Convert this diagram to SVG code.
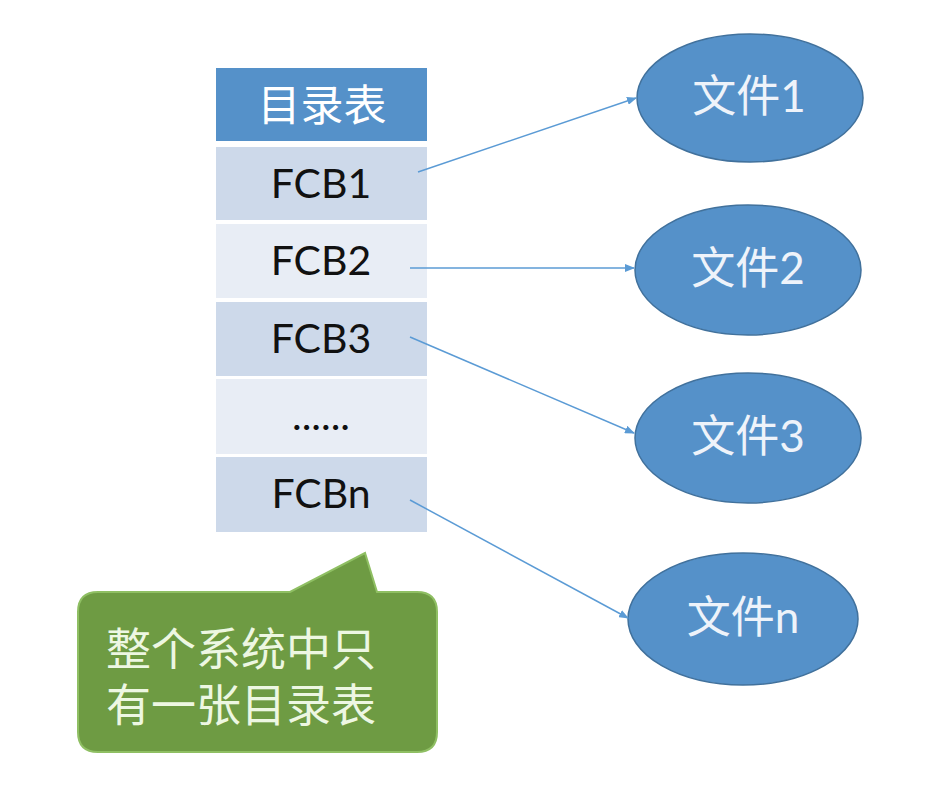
<svg xmlns="http://www.w3.org/2000/svg" width="939" height="789" viewBox="0 0 939 789">
<style>
.hdr{fill:#5591c9}
.dk{fill:#cdd9ea}
.lt{fill:#e8edf5}
.t{font-family:Lato,"Liberation Sans","Noto Sans CJK SC",sans-serif;text-anchor:middle}
.ft{font-size:41px;fill:#111}
.ell{fill:#5591c9;stroke:#41719c;stroke-width:1.5}
.et{font-size:44px;fill:#eef3fa}
.ct{font-family:"Liberation Sans","Noto Sans CJK SC",sans-serif;font-size:45px;fill:#edf7e2}
.conn{stroke:#5b9bd5;stroke-width:1.5;fill:none;marker-end:url(#ah)}
</style>
<defs>
<marker id="ah" markerWidth="10" markerHeight="8" refX="9" refY="4" orient="auto" markerUnits="userSpaceOnUse" viewBox="0 0 10 8">
<path d="M0,0 L10,4 L0,8 z" fill="#5b9bd5"/>
</marker>
</defs>
<rect width="939" height="789" fill="#fff"/>
<g id="table">
<rect class="hdr" x="216" y="68" width="211" height="73"/>
<text class="t" x="322" y="121" font-size="43" fill="#fff">目录表</text>
</g>
<g id="fcb1"><rect class="dk" x="216" y="147" width="211" height="73"/><text class="t ft" x="321" y="198">FCB1</text></g>
<g id="fcb2"><rect class="lt" x="216" y="224" width="211" height="74"/><text class="t ft" x="321" y="275">FCB2</text></g>
<g id="fcb3"><rect class="dk" x="216" y="302" width="211" height="74"/><text class="t ft" x="321" y="353">FCB3</text></g>
<g id="dots"><rect class="lt" x="216" y="379" width="211" height="75"/><text class="t ft" x="321" y="430">......</text></g>
<g id="fcbn"><rect class="dk" x="216" y="457" width="211" height="75"/><text class="t ft" x="321" y="508">FCBn</text></g>
<g id="file1"><ellipse class="ell" cx="750" cy="98" rx="113" ry="64"/><text class="t et" x="749" y="112">文件1</text></g>
<g id="file2"><ellipse class="ell" cx="748" cy="270" rx="113" ry="65"/><text class="t et" x="748" y="284">文件2</text></g>
<g id="file3"><ellipse class="ell" cx="748" cy="438" rx="113" ry="65"/><text class="t et" x="748" y="452">文件3</text></g>
<g id="filen"><ellipse class="ell" cx="743" cy="619" rx="115" ry="66"/><text class="t et" x="743" y="633">文件n</text></g>
<g id="connectors">
<line class="conn" x1="418" y1="172" x2="636" y2="98"/>
<line class="conn" x1="410" y1="268" x2="634" y2="268"/>
<line class="conn" x1="410" y1="337" x2="634" y2="433"/>
<line class="conn" x1="410" y1="500" x2="628" y2="618"/>
</g>
<g id="callout">
<path d="M98,592 L290,592 L365,553 L377,592 L417,592 Q437,592 437,612 L437,732 Q437,752 417,752 L98,752 Q78,752 78,732 L78,612 Q78,592 98,592 Z" fill="#6e9b43" stroke="#8fbf63" stroke-width="2"/>
<text class="ct" x="106" y="666">整个系统中只</text>
<text class="ct" x="106" y="722">有一张目录表</text>
</g>
</svg>
